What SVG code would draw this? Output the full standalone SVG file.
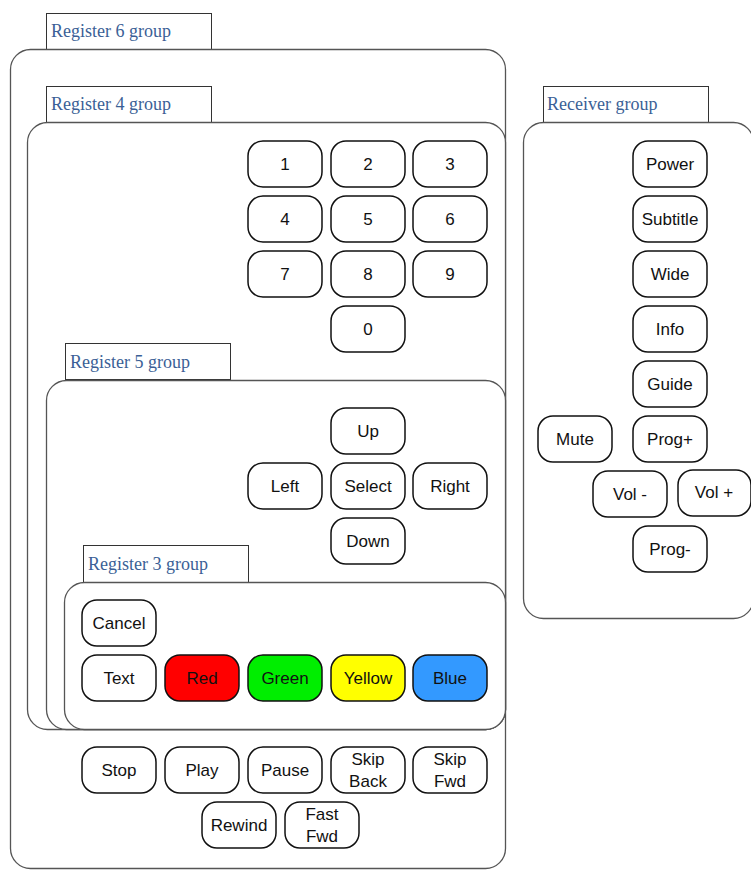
<svg xmlns="http://www.w3.org/2000/svg" width="751" height="870" viewBox="0 0 751 870">
<style>
.grp{fill:#fff;stroke:#555;stroke-width:1.3}
.lbl{fill:#fff;stroke:#333;stroke-width:1}
.lt{font-family:"Liberation Serif",serif;font-size:18px;fill:#3b5f96}
.b{fill:#fff;stroke:#111;stroke-width:1.5}
.t{font-family:"Liberation Sans",Arial,sans-serif;font-size:17px;fill:#111;text-anchor:middle}
</style>
<rect width="751" height="870" fill="#fff"/>
<g id="register6">
<rect class="lbl" x="46.5" y="13.5" width="165" height="36"/>
<text class="lt" x="51" y="37">Register 6 group</text>
<rect class="grp" x="10.5" y="49.5" width="495" height="819" rx="20"/>
</g>
<g id="register4">
<rect class="lbl" x="46.5" y="86.5" width="165" height="36"/>
<text class="lt" x="51" y="110">Register 4 group</text>
<rect class="grp" x="27.5" y="122.5" width="478" height="607" rx="20"/>
</g>
<g id="receiver">
<rect class="lbl" x="543.5" y="86.5" width="165" height="36"/>
<text class="lt" x="547" y="110">Receiver group</text>
<rect class="grp" x="523.5" y="122.5" width="230" height="496" rx="20"/>
</g>
<g id="register5">
<rect class="lbl" x="65.5" y="343.5" width="165" height="36"/>
<text class="lt" x="70" y="368">Register 5 group</text>
<rect class="grp" x="46.5" y="380.5" width="459" height="349" rx="20"/>
</g>
<g id="register3">
<rect class="lbl" x="83.5" y="545.5" width="165" height="37"/>
<text class="lt" x="88" y="570">Register 3 group</text>
<rect class="grp" x="64.5" y="582.5" width="441" height="147" rx="20"/>
</g>
<g id="btn-1"><rect class="b" x="248" y="141" width="74" height="46" rx="15"/><text class="t" x="285" y="170">1</text></g>
<g id="btn-2"><rect class="b" x="331" y="141" width="74" height="46" rx="15"/><text class="t" x="368" y="170">2</text></g>
<g id="btn-3"><rect class="b" x="413" y="141" width="74" height="46" rx="15"/><text class="t" x="450" y="170">3</text></g>
<g id="btn-4"><rect class="b" x="248" y="196" width="74" height="46" rx="15"/><text class="t" x="285" y="225">4</text></g>
<g id="btn-5"><rect class="b" x="331" y="196" width="74" height="46" rx="15"/><text class="t" x="368" y="225">5</text></g>
<g id="btn-6"><rect class="b" x="413" y="196" width="74" height="46" rx="15"/><text class="t" x="450" y="225">6</text></g>
<g id="btn-7"><rect class="b" x="248" y="251" width="74" height="46" rx="15"/><text class="t" x="285" y="280">7</text></g>
<g id="btn-8"><rect class="b" x="331" y="251" width="74" height="46" rx="15"/><text class="t" x="368" y="280">8</text></g>
<g id="btn-9"><rect class="b" x="413" y="251" width="74" height="46" rx="15"/><text class="t" x="450" y="280">9</text></g>
<g id="btn-0"><rect class="b" x="331" y="306" width="74" height="46" rx="15"/><text class="t" x="368" y="335">0</text></g>
<g id="btn-up"><rect class="b" x="331" y="408" width="74" height="46" rx="15"/><text class="t" x="368" y="437">Up</text></g>
<g id="btn-left"><rect class="b" x="248" y="463" width="74" height="46" rx="15"/><text class="t" x="285" y="492">Left</text></g>
<g id="btn-select"><rect class="b" x="331" y="463" width="74" height="46" rx="15"/><text class="t" x="368" y="492">Select</text></g>
<g id="btn-right"><rect class="b" x="413" y="463" width="74" height="46" rx="15"/><text class="t" x="450" y="492">Right</text></g>
<g id="btn-down"><rect class="b" x="331" y="518" width="74" height="46" rx="15"/><text class="t" x="368" y="547">Down</text></g>
<g id="btn-cancel"><rect class="b" x="82" y="600" width="74" height="46" rx="15"/><text class="t" x="119" y="629">Cancel</text></g>
<g id="btn-text"><rect class="b" x="82" y="655" width="74" height="46" rx="15"/><text class="t" x="119" y="684">Text</text></g>
<g id="btn-red"><rect class="b" x="165" y="655" width="74" height="46" rx="15" style="fill:#ff0000"/><text class="t" x="202" y="684">Red</text></g>
<g id="btn-green"><rect class="b" x="248" y="655" width="74" height="46" rx="15" style="fill:#00ee00"/><text class="t" x="285" y="684">Green</text></g>
<g id="btn-yellow"><rect class="b" x="331" y="655" width="74" height="46" rx="15" style="fill:#ffff00"/><text class="t" x="368" y="684">Yellow</text></g>
<g id="btn-blue"><rect class="b" x="413" y="655" width="74" height="46" rx="15" style="fill:#3399ff"/><text class="t" x="450" y="684">Blue</text></g>
<g id="btn-stop"><rect class="b" x="82" y="747" width="74" height="46" rx="15"/><text class="t" x="119" y="776">Stop</text></g>
<g id="btn-play"><rect class="b" x="165" y="747" width="74" height="46" rx="15"/><text class="t" x="202" y="776">Play</text></g>
<g id="btn-pause"><rect class="b" x="248" y="747" width="74" height="46" rx="15"/><text class="t" x="285" y="776">Pause</text></g>
<g id="btn-skipback"><rect class="b" x="331" y="747" width="74" height="46" rx="15"/><text class="t" x="368" y="765">Skip</text><text class="t" x="368" y="787">Back</text></g>
<g id="btn-skipfwd"><rect class="b" x="413" y="747" width="74" height="46" rx="15"/><text class="t" x="450" y="765">Skip</text><text class="t" x="450" y="787">Fwd</text></g>
<g id="btn-rewind"><rect class="b" x="202" y="802" width="74" height="46" rx="15"/><text class="t" x="239" y="831">Rewind</text></g>
<g id="btn-fastfwd"><rect class="b" x="285" y="802" width="74" height="46" rx="15"/><text class="t" x="322" y="820">Fast</text><text class="t" x="322" y="842">Fwd</text></g>
<g id="btn-power"><rect class="b" x="633" y="141" width="74" height="46" rx="15"/><text class="t" x="670" y="170">Power</text></g>
<g id="btn-subtitle"><rect class="b" x="633" y="196" width="74" height="46" rx="15"/><text class="t" x="670" y="225">Subtitle</text></g>
<g id="btn-wide"><rect class="b" x="633" y="251" width="74" height="46" rx="15"/><text class="t" x="670" y="280">Wide</text></g>
<g id="btn-info"><rect class="b" x="633" y="306" width="74" height="46" rx="15"/><text class="t" x="670" y="335">Info</text></g>
<g id="btn-guide"><rect class="b" x="633" y="361" width="74" height="46" rx="15"/><text class="t" x="670" y="390">Guide</text></g>
<g id="btn-mute"><rect class="b" x="538" y="416" width="74" height="46" rx="15"/><text class="t" x="575" y="445">Mute</text></g>
<g id="btn-progplus"><rect class="b" x="633" y="416" width="74" height="46" rx="15"/><text class="t" x="670" y="445">Prog+</text></g>
<g id="btn-volminus"><rect class="b" x="593" y="471" width="74" height="46" rx="15"/><text class="t" x="630" y="500">Vol -</text></g>
<g id="btn-volplus"><rect class="b" x="678" y="470" width="73" height="46" rx="15"/><text class="t" x="714" y="498">Vol +</text></g>
<g id="btn-progminus"><rect class="b" x="633" y="526" width="74" height="46" rx="15"/><text class="t" x="670" y="555">Prog-</text></g>
<g id="connectors"></g>
</svg>
